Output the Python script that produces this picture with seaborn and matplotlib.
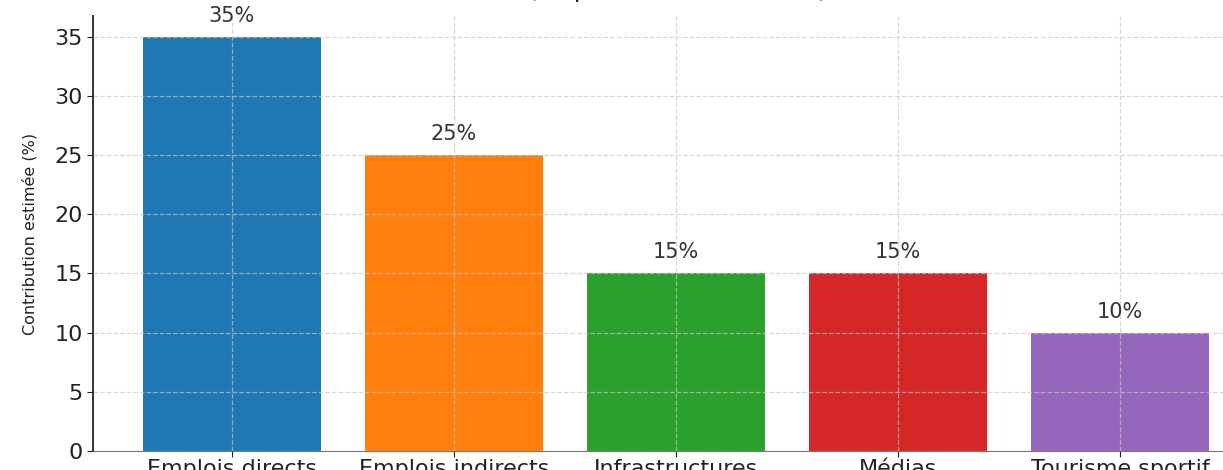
import matplotlib
matplotlib.use("Agg")
import matplotlib.pyplot as plt
import seaborn as sns
import pandas as pd

# valeurs
categories = ["Emplois directs", "Emplois indirects", "Infrastructures", "Médias", "Tourisme sportif"]
contributions = [35, 25, 15, 15, 10]
couleurs = ["#1f77b4", "#ff7f0e", "#2ca02c", "#d62728", "#9467bd"]

df = pd.DataFrame({"Secteur": categories, "Contribution": contributions})

sns.set_style("ticks")
plt.rcParams["font.family"] = ["DejaVu Sans"]

fig = plt.figure(figsize=(12.23, 4.70), dpi=100)
ax = fig.add_axes([93 / 1223, 19 / 470, 1169 / 1223, 435 / 470])

sns.barplot(data=df, x="Secteur", y="Contribution", hue="Secteur",
            palette=couleurs, legend=False, width=0.8, saturation=1,
            edgecolor="none", ax=ax)

for c in ax.containers:
    ax.bar_label(c, fmt="%d%%", padding=8, fontsize=15, color="#333333")

ax.set_xlim(-0.626, 4.64)
ax.set_ylim(0, 36.75)
ax.set_axisbelow(False)
ax.grid(True, linestyle="--", color="#c8c8c8", alpha=0.7, linewidth=0.9)

ax.set_title("Répartition estimée de l'impact économique du sport\n(inspiré du CDES, 2022)",
             fontsize=18, color="#222222", pad=14)
ax.set_xlabel("")
ax.set_ylabel("Contribution estimée (%)", fontsize=11.5, color="#222222", labelpad=12)
ax.tick_params(axis="both", labelsize=16, colors="#222222", length=4)
ax.tick_params(axis="x", pad=2)
sns.despine(ax=ax)
ax.spines["left"].set_color("#333333")
ax.spines["left"].set_linewidth(1.4)
ax.spines["bottom"].set_color("#777777")

fig.savefig("out.png", dpi=100)
